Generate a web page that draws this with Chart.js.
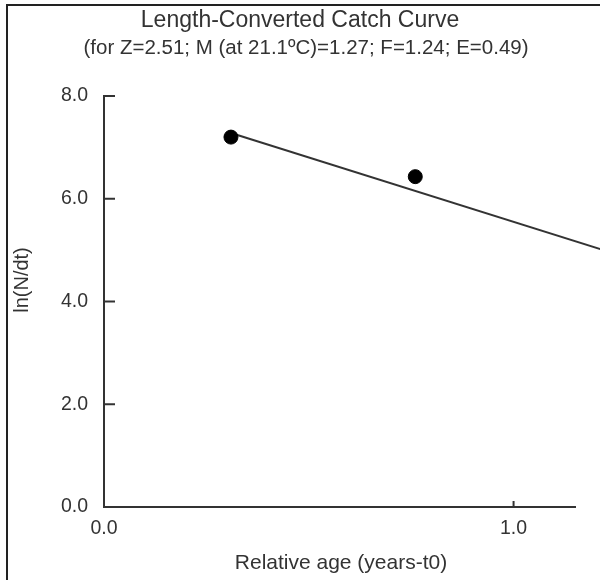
<!DOCTYPE html>
<html>
<head>
<meta charset="utf-8">
<script src="https://cdn.jsdelivr.net/npm/chart.js@4"></script>
<style>
html,body{margin:0;padding:0;background:#fff;}
#wrap{width:600px;height:580px;position:relative;}
</style>
</head>
<body>
<div id="wrap"><canvas id="c" width="600" height="580"></canvas></div>
<script>
// Data
const ageX = [0.31, 0.76];          // relative age (years - t0)
const lnNdt = [7.20, 6.43];         // ln(N/dt)
const fitX = [0.31, 1.22];          // regression line ends
const fitY = [7.28, 5.00];
const yTickVals = [0, 2, 4, 6, 8];
const xTickVals = [0, 1];
const titleText = "Length-Converted Catch Curve";
const subtitleText = "(for Z=2.51; M (at 21.1\u00BAC)=1.27; F=1.24; E=0.49)";
const xTitle = "Relative age (years-t0)";
const yTitle = "ln(N/dt)";

const FONT = "'Liberation Sans', Arial, sans-serif";
const TXT = "#333";

const decor = {
  id: 'decor',
  beforeDraw(chart) {
    const ctx = chart.ctx;
    ctx.save();
    ctx.fillStyle = '#fff';
    ctx.fillRect(0, 0, chart.width, chart.height);
    // outer frame (left & top)
    ctx.strokeStyle = '#222';
    ctx.lineWidth = 2;
    ctx.beginPath();
    ctx.moveTo(7, 580);
    ctx.lineTo(7, 5);
    ctx.lineTo(600, 5);
    ctx.stroke();
    ctx.restore();
  },
  afterDraw(chart) {
    const ctx = chart.ctx;
    const xs = chart.scales.x, ys = chart.scales.y;
    ctx.save();
    ctx.strokeStyle = '#333';
    ctx.lineWidth = 2;
    // inward y ticks
    yTickVals.forEach(v => {
      if (v === 0) return;
      const py = ys.getPixelForValue(v);
      ctx.beginPath();
      ctx.moveTo(xs.left, py);
      ctx.lineTo(xs.left + 11, py);
      ctx.stroke();
    });
    // inward x ticks
    xTickVals.forEach(v => {
      if (v === 0) return;
      const px = xs.getPixelForValue(v);
      ctx.beginPath();
      ctx.moveTo(px, ys.bottom);
      ctx.lineTo(px, ys.bottom - 6);
      ctx.stroke();
    });
    // titles
    ctx.fillStyle = TXT;
    ctx.textAlign = 'center';
    ctx.textBaseline = 'middle';
    ctx.font = "23px " + FONT;
    ctx.fillText(titleText, 300, 21);
    ctx.font = "20.5px " + FONT;
    ctx.fillText(subtitleText, 306, 48);
    ctx.font = "21px " + FONT;
    ctx.fillText(xTitle, 341, 563);
    ctx.font = "20px " + FONT;
    ctx.translate(22, 280);
    ctx.rotate(-Math.PI / 2);
    ctx.fillText(yTitle, 0, 0);
    ctx.restore();
  }
};

new Chart(document.getElementById('c'), {
  type: 'scatter',
  data: {
    datasets: [
      {
        label: 'fit',
        type: 'line',
        data: fitX.map((x, i) => ({x, y: fitY[i]})),
        borderColor: '#333',
        borderWidth: 2,
        pointRadius: 0,
        fill: false,
        clip: false,
        order: 2
      },
      {
        label: 'points',
        data: ageX.map((x, i) => ({x, y: lnNdt[i]})),
        backgroundColor: '#000',
        borderColor: '#000',
        pointRadius: 7,
        pointHoverRadius: 7,
        order: 1
      }
    ]
  },
  options: {
    responsive: false,
    animation: false,
    devicePixelRatio: 1,
    layout: { padding: { top: 96, right: 25, bottom: 0, left: 0 } },
    plugins: { legend: { display: false }, tooltip: { enabled: false }, title: { display: false } },
    scales: {
      x: {
        type: 'linear',
        min: 0, max: 1.15,
        afterBuildTicks(s) { s.ticks = xTickVals.map(v => ({value: v})); },
        afterFit(s) { s.height = 73; },
        border: { color: '#333', width: 2 },
        grid: { drawOnChartArea: false, drawTicks: false },
        ticks: { padding: 10, color: TXT, font: { family: FONT, size: 19.5 }, maxRotation: 0,
          callback: v => Number(v).toFixed(1) }
      },
      y: {
        type: 'linear',
        min: 0, max: 8,
        afterBuildTicks(s) { s.ticks = yTickVals.map(v => ({value: v})); },
        afterFit(s) { s.width = 104; },
        border: { color: '#333', width: 2 },
        grid: { drawOnChartArea: false, drawTicks: false },
        ticks: { padding: 16, color: TXT, font: { family: FONT, size: 19.5 },
          callback: v => Number(v).toFixed(1) }
      }
    }
  },
  plugins: [decor]
});
</script>
</body>
</html>
